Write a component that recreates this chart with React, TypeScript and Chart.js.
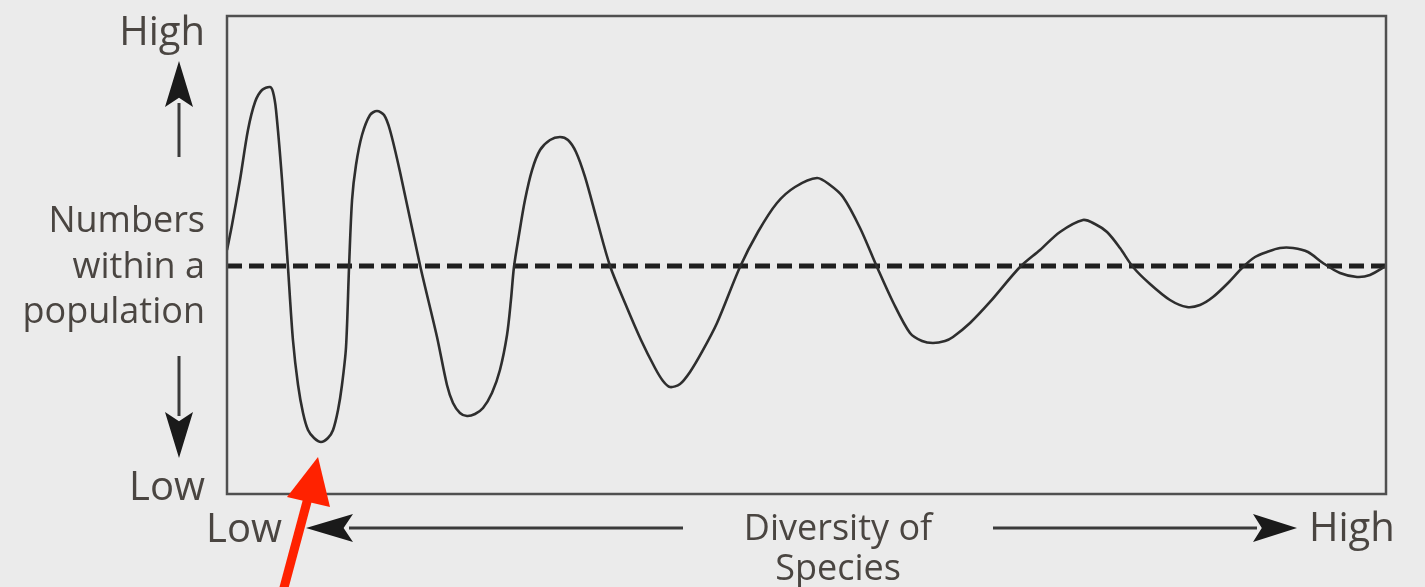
import React, { useEffect, useRef } from "react";
import { Chart, registerables } from "chart.js";

Chart.register(...registerables);

// Diversity of species (0 = low, 100 = high)
const diversity = [
  0, 0.43, 1.12, 1.81, 2.42, 3.02, 3.71, 3.97, 4.23, 4.75, 5.26, 5.69, 6.13, 6.56, 6.99, 7.51, 8.11, 8.71,
  9.15, 9.58, 9.92, 10.27, 10.53, 10.79, 11.13, 11.65, 12.34, 12.94, 13.55, 14.06, 14.93, 16.65, 18.12,
  18.98, 19.5, 20.1, 20.71, 21.4, 22.09, 22.86, 23.55, 24.16, 24.5, 24.76, 25.19, 25.71, 26.32, 27.01,
  27.87, 28.73, 29.42, 30.11, 30.89, 31.92, 33.05, 34.34, 35.72, 36.93, 37.62, 38.22, 39.09, 39.95, 40.98,
  42.28, 44.26, 45.81, 47.45, 49.01, 50.91, 52.03, 53.15, 54.62, 56.08, 57.46, 58.93, 59.97, 60.91, 61.95,
  62.64, 64.11, 65.83, 68.42, 70.15, 71.87, 73.86, 74.89, 75.93, 77.05, 78.17, 79.64, 81.36, 82.83, 83.95,
  85.07, 86.37, 87.66, 88.7, 89.73, 90.85, 91.98, 93.27, 94.56, 96.03, 97.5, 98.62, 100,
];
// Numbers within a population (0 = low, 100 = high)
const population = [
  51.05, 56.28, 65.69, 76.15, 82.01, 84.52, 85.15, 84.1, 80.33, 65.69, 47.49, 32.22, 22.8, 16.95, 13.39,
  11.72, 10.88, 11.72, 13.39, 17.57, 22.8, 30.75, 47.49, 61.51, 68.83, 75.1, 79.29, 80.13, 79.29, 76.15,
  67.36, 47.91, 32.85, 22.8, 19.04, 16.95, 16.32, 16.74, 17.99, 21.13, 25.94, 33.26, 40.59, 47.49, 54.18,
  61.51, 67.78, 71.97, 74.06, 74.69, 74.06, 71.55, 66.32, 57.32, 47.7, 39.96, 32.22, 26.36, 23.64, 22.38,
  23.01, 25.52, 29.71, 35.77, 47.49, 54.81, 60.88, 64.23, 66.11, 64.64, 62.13, 55.65, 47.49, 40.17, 33.68,
  32.01, 31.59, 32.01, 32.85, 35.77, 40.17, 47.49, 51.05, 54.81, 57.32, 56.49, 54.81, 51.46, 47.49, 43.93,
  40.59, 39.12, 39.54, 41.21, 44.14, 47.49, 49.58, 50.63, 51.46, 51.46, 50.63, 48.33, 46.23, 45.4, 45.82,
  47.7,
];
const equilibriumLevel = 47.7;
const equilibriumX = [0, 100];

const yLabelHigh = "High";
const yLabelMiddle = ["Numbers", "within a", "population"];
const yLabelLow = "Low";
const xLabelLow = "Low";
const xLabelMiddle = ["Diversity of", "Species"];
const xLabelHigh = "High";

const TEXT_COLOR = "#4a4541";
const FONT = '36px "Open Sans"';
const FONT_BIG = '40px "Open Sans"';

function arrow(ctx: CanvasRenderingContext2D, x1: number, y1: number, x2: number, y2: number,
  headLen: number, headHalf: number, lineColor: string, headColor: string, lw: number) {
  const ang = Math.atan2(y2 - y1, x2 - x1);
  const bx = x2 - Math.cos(ang) * headLen;
  const by = y2 - Math.sin(ang) * headLen;
  ctx.save();
  ctx.strokeStyle = lineColor;
  ctx.lineWidth = lw;
  ctx.beginPath();
  ctx.moveTo(x1, y1);
  ctx.lineTo(bx + Math.cos(ang) * 4, by + Math.sin(ang) * 4);
  ctx.stroke();
  ctx.fillStyle = headColor;
  const px = -Math.sin(ang), py = Math.cos(ang);
  const nx = x2 - Math.cos(ang) * headLen * 0.8;
  const ny = y2 - Math.sin(ang) * headLen * 0.8;
  ctx.beginPath();
  ctx.moveTo(x2, y2);
  ctx.lineTo(bx + px * headHalf, by + py * headHalf);
  ctx.lineTo(nx, ny);
  ctx.lineTo(bx - px * headHalf, by - py * headHalf);
  ctx.closePath();
  ctx.fill();
  ctx.restore();
}

const decorPlugin = {
  id: "decor",
  beforeDraw(chart: any) {
    const { ctx, width, height } = chart;
    ctx.save();
    ctx.fillStyle = "#ebebeb";
    ctx.fillRect(0, 0, width, height);
    ctx.restore();
  },
  afterDraw(chart: any) {
    const { ctx, chartArea: a } = chart;
    ctx.save();
    // box
    ctx.strokeStyle = "#4f4f4f";
    ctx.lineWidth = 2.5;
    ctx.strokeRect(a.left, a.top, a.right - a.left, a.bottom - a.top);

    // texts
    ctx.fillStyle = TEXT_COLOR;
    ctx.textBaseline = "alphabetic";
    ctx.textAlign = "right";
    const rx = a.left - 22;
    ctx.font = FONT_BIG;
    ctx.fillText(yLabelHigh, rx, a.top + 29);
    ctx.fillText(yLabelLow, rx, a.bottom + 6);
    ctx.font = FONT;
    yLabelMiddle.forEach((t, i) => ctx.fillText(t, rx, a.top + 216 + i * 45.5));

    ctx.textAlign = "left";
    ctx.font = FONT_BIG;
    ctx.fillText(xLabelLow, a.left - 21, a.bottom + 48);
    ctx.fillText(xLabelHigh, 1309, a.bottom + 47);
    ctx.font = FONT;
    ctx.textAlign = "center";
    ctx.fillText(xLabelMiddle[0], 838, a.bottom + 46);
    ctx.fillText(xLabelMiddle[1], 838, a.bottom + 86);

    // y arrows
    const ax = 179;
    arrow(ctx, ax, 157, ax, 61, 46, 14, "#3a3a3a", "#1a1a1a", 3);
    arrow(ctx, ax, 356, ax, 458, 46, 14, "#3a3a3a", "#1a1a1a", 3);
    // x arrows
    arrow(ctx, 683, 528, 306, 528, 47, 14, "#3a3a3a", "#1a1a1a", 3);
    arrow(ctx, 993, 528, 1297, 528, 44, 14, "#3a3a3a", "#1a1a1a", 3);

    // red pointer arrow
    ctx.strokeStyle = "#ff2200";
    ctx.lineWidth = 9;
    ctx.beginPath();
    ctx.moveTo(282, 595);
    ctx.lineTo(308, 498);
    ctx.stroke();
    ctx.fillStyle = "#ff2200";
    ctx.beginPath();
    ctx.moveTo(318, 457);
    ctx.lineTo(330, 507);
    ctx.lineTo(287, 497);
    ctx.closePath();
    ctx.fill();
    ctx.restore();
  },
};

export default function App() {
  const ref = useRef<HTMLCanvasElement | null>(null);
  useEffect(() => {
    if (!ref.current) return;
    const chart = new Chart(ref.current, {
      type: "scatter",
      data: {
        datasets: [
          {
            data: diversity.map((x, i) => ({ x, y: population[i] })),
            showLine: true,
            borderColor: "#2e2e2e",
            borderWidth: 2.6,
            pointRadius: 0,
            tension: 0.3,
            fill: false,
          } as any,
          {
            data: equilibriumX.map((x) => ({ x, y: equilibriumLevel })),
            showLine: true,
            borderColor: "#1f1f1f",
            borderWidth: 5,
            borderDash: [15, 7],
            pointRadius: 0,
            fill: false,
          } as any,
        ],
      },
      options: {
        responsive: false,
        animation: false,
        layout: { padding: { left: 227, top: 16, right: 39, bottom: 93 } },
        plugins: { legend: { display: false }, tooltip: { enabled: false }, title: { display: false } },
        scales: {
          x: { type: "linear", min: 0, max: 100, display: false },
          y: { type: "linear", min: 0, max: 100, display: false },
        },
      },
      plugins: [decorPlugin],
    });
    return () => chart.destroy();
  }, []);
  return (
    <div style={{ position: "absolute", left: 0, top: 0, width: 1425, height: 587, overflow: "hidden", background: "#ebebeb" }}>
      <canvas ref={ref} width={1425} height={587} style={{ display: "block" }} />
    </div>
  );
}
